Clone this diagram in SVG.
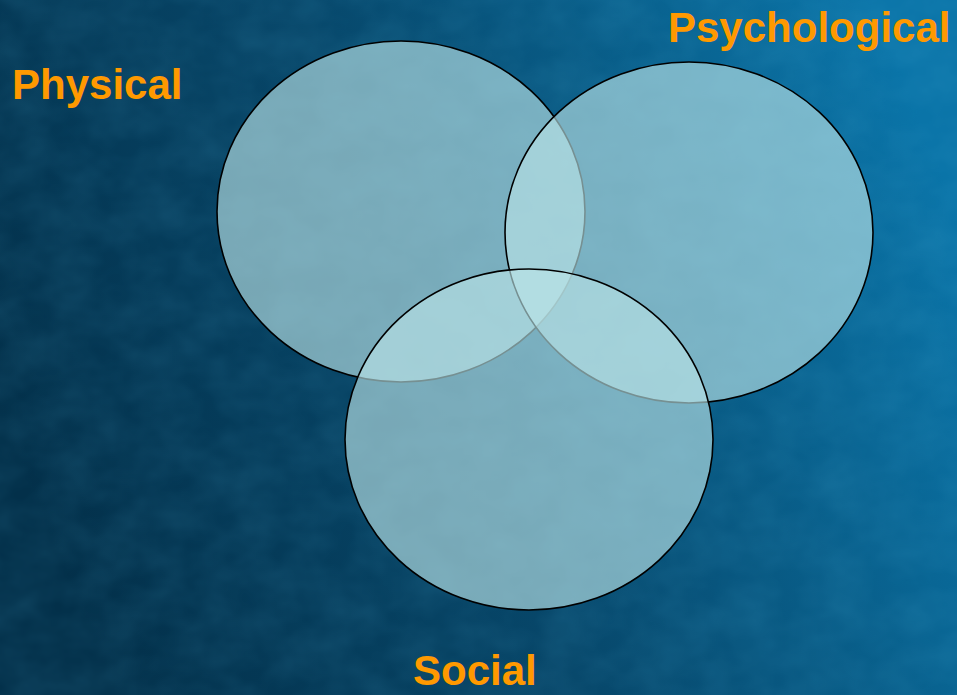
<svg xmlns="http://www.w3.org/2000/svg" width="957" height="695" viewBox="0 0 957 695">
  <defs>
    <linearGradient id="bg" x1="0" y1="0.6" x2="1" y2="0.3">
      <stop offset="0" stop-color="#03304a"/>
      <stop offset="0.45" stop-color="#07476a"/>
      <stop offset="1" stop-color="#0a74a8"/>
    </linearGradient>
    <filter id="tex" x="0" y="0" width="100%" height="100%">
      <feTurbulence type="fractalNoise" baseFrequency="0.022 0.03" numOctaves="3" seed="7"/>
      <feColorMatrix type="matrix" values="0 0 0 0 0.1  0 0 0 0 0.5  0 0 0 0 0.75  0 0 0 0.35 -0.08"/>
    </filter>
    <style>
      .set { fill: #bbe4e8; fill-opacity: 0.63; stroke: #000; stroke-width: 1.6; }
      .lbl { font-family: "Liberation Sans", Arial, sans-serif; font-weight: bold; font-size: 42px; fill: #ff9900; }
    </style>
  </defs>
  <rect width="957" height="695" fill="url(#bg)"/>
  <rect width="957" height="695" filter="url(#tex)" opacity="0.5"/>
  <g id="physical">
    <ellipse class="set" cx="401" cy="211.5" rx="184" ry="170.5"/>
    <text class="lbl" x="12" y="99">Physical</text>
  </g>
  <g id="psychological">
    <ellipse class="set" cx="689" cy="232.5" rx="184" ry="170.5"/>
    <text class="lbl" x="668" y="42">Psychological</text>
  </g>
  <g id="social">
    <ellipse class="set" cx="529" cy="439.5" rx="184" ry="170.5"/>
    <text class="lbl" x="413" y="685">Social</text>
  </g>
  <g id="connectors"/>
</svg>
